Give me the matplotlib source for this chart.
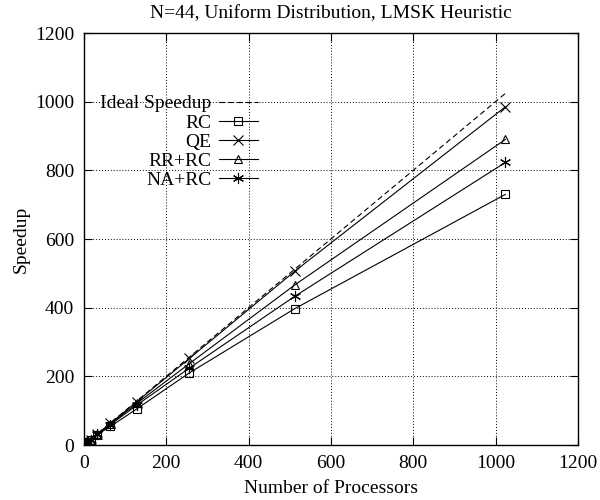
import matplotlib
matplotlib.use('Agg')
import matplotlib.pyplot as plt

plt.rcParams['font.family'] = ['Liberation Serif', 'DejaVu Serif']
plt.rcParams['font.size'] = 14

# Данные
procs = [1, 2, 4, 8, 16, 32, 64, 128, 256, 512, 1024]
ideal = [1, 2, 4, 8, 16, 32, 64, 128, 256, 512, 1024]
rc = [1, 2, 3.9, 7.8, 15.4, 30, 54, 105, 210, 397, 730]
qe = [1, 2, 4, 8, 16, 31.8, 63, 126, 252, 506, 985]
rr_rc = [1, 2, 4, 7.9, 15.8, 31.3, 61, 121, 237, 466, 890]
na_rc = [1, 2, 4, 7.9, 15.7, 31, 59, 116, 224, 433, 823]

fig = plt.figure(figsize=(6, 5), dpi=100)
ax = fig.add_axes([0.14, 0.11, 0.823, 0.824])

ax.plot(procs, ideal, '--', color='black', linewidth=0.8, dashes=(5, 3),
        label='Ideal Speedup')
ax.plot(procs, rc, '-', color='black', linewidth=0.8, marker='s', markersize=6,
        markerfacecolor='none', markeredgewidth=0.8, label='RC')
ax.plot(procs, qe, '-', color='black', linewidth=0.8, marker='x', markersize=7,
        markeredgewidth=0.8, label='QE')
ax.plot(procs, rr_rc, '-', color='black', linewidth=0.8, marker='^', markersize=6,
        markerfacecolor='none', markeredgewidth=0.8, label='RR+RC')
ax.plot(procs, na_rc, '-', color='black', linewidth=0.8, marker=(6, 2, 0),
        markersize=8, markeredgewidth=0.8, label='NA+RC')

ax.set_xlim(0, 1200)
ax.set_ylim(0, 1200)
ax.set_xticks(range(0, 1201, 200))
ax.set_yticks(range(0, 1201, 200))
ax.tick_params(direction='in', top=True, right=True, length=6, width=0.8, pad=7)
ax.grid(True, linestyle=(0, (1, 2)), color='black', linewidth=0.7)
for s in ax.spines.values():
    s.set_linewidth(1.0)

ax.set_title('N=44, Uniform Distribution, LMSK Heuristic', fontsize=14, pad=11)
ax.set_xlabel('Number of Processors', labelpad=6)
ax.set_ylabel('Speedup', labelpad=4)

leg = ax.legend(loc='upper right', bbox_to_anchor=(0.352, 0.85), frameon=False,
                markerfirst=False, handlelength=2.0, handletextpad=0.4,
                labelspacing=0.08, borderpad=0, borderaxespad=0)

fig.savefig('out.png', dpi=100)
